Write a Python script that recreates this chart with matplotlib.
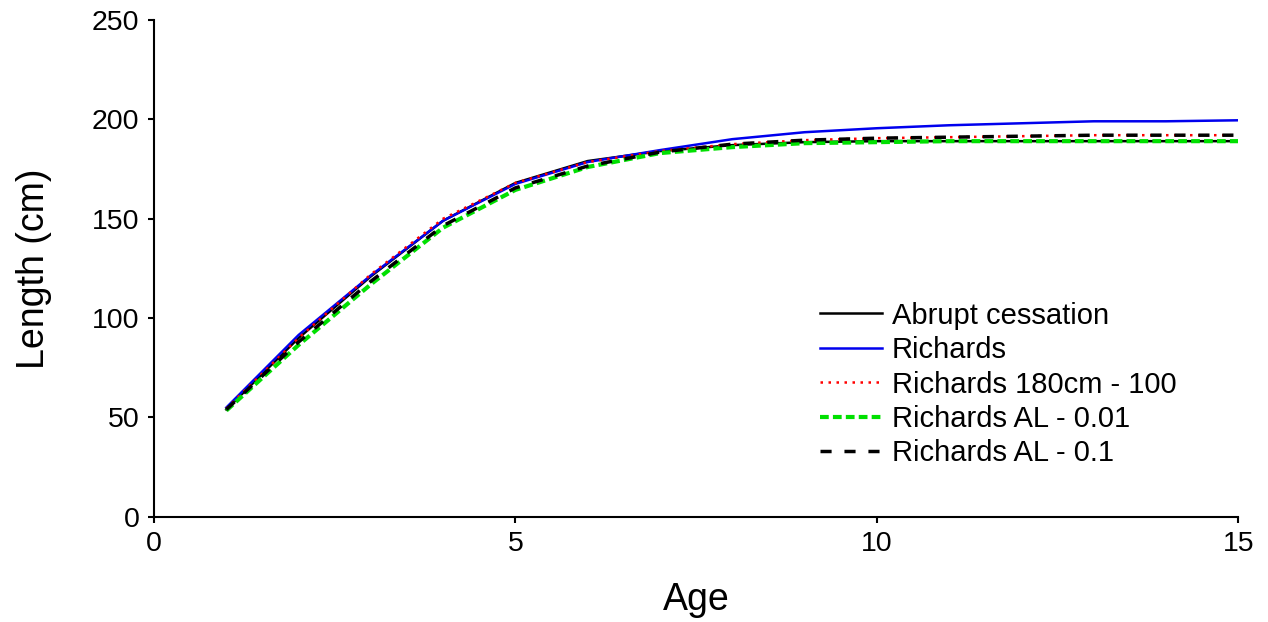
import matplotlib.pyplot as plt
import numpy as np

plt.rcParams['font.family'] = ['Liberation Sans', 'DejaVu Sans']

# ages and modelled lengths (cm)
age = np.arange(1, 16)
abrupt = [54, 90, 121, 149, 168, 179, 184, 187, 188.5, 189, 189, 189, 189, 189, 189]
richards = [55, 91.5, 121.5, 149, 167.5, 178.5, 184.5, 190, 193.5, 195.5, 197, 198, 199, 199, 199.5]
rich_180 = [54.5, 90, 122, 150, 168, 178.5, 184, 187.5, 189.5, 190.5, 191, 191.5, 192, 192, 192]
rich_al001 = [53.5, 86.5, 117, 145.5, 164.5, 176, 183, 186, 188, 188.5, 189, 189, 189, 189, 189]
rich_al01 = [54, 88, 118.5, 146.5, 165.5, 176.5, 183.5, 187.5, 189.5, 190.5, 191, 191.5, 192, 192, 192]

fig = plt.figure(figsize=(12.68, 6.22), dpi=100)
ax = fig.add_axes([0.1215, 0.169, 0.855, 0.799])

ax.plot(age, abrupt, color='black', lw=1.8, label='Abrupt cessation')
ax.plot(age, richards, color='#0000ee', lw=1.8, label='Richards')
ax.plot(age, rich_180, color='red', lw=1.8, linestyle=(0, (1, 2.2)), label='Richards 180cm - 100')
ax.plot(age, rich_al001, color='#00e000', lw=3.0, linestyle=(0, (2.1, 1.0)), label='Richards AL - 0.01')
ax.plot(age, rich_al01, color='black', lw=2.5, linestyle=(0, (3.2, 3.7)), label='Richards AL - 0.1')

ax.set_xlim(0, 15)
ax.set_ylim(0, 250)
ax.set_xticks([0, 5, 10, 15])
ax.set_yticks([0, 50, 100, 150, 200, 250])
ax.spines['top'].set_visible(False)
ax.spines['right'].set_visible(False)
for s in ['left', 'bottom']:
    ax.spines[s].set_linewidth(1.5)
ax.tick_params(axis='both', direction='out', length=4.5, width=1.5, labelsize=20.5)
ax.tick_params(axis='y', pad=6)
ax.tick_params(axis='x', pad=6)

ax.set_xlabel('Age', fontsize=27, labelpad=18)
ax.set_ylabel('Length (cm)', fontsize=27, labelpad=29)

ax.legend(loc='upper left', bbox_to_anchor=(0.647, 0.515), bbox_transform=fig.transFigure,
          frameon=False, fontsize=21, handlelength=2.1, handletextpad=0.35,
          labelspacing=0.22, borderpad=0, borderaxespad=0)

plt.savefig('out.png', dpi=100)
